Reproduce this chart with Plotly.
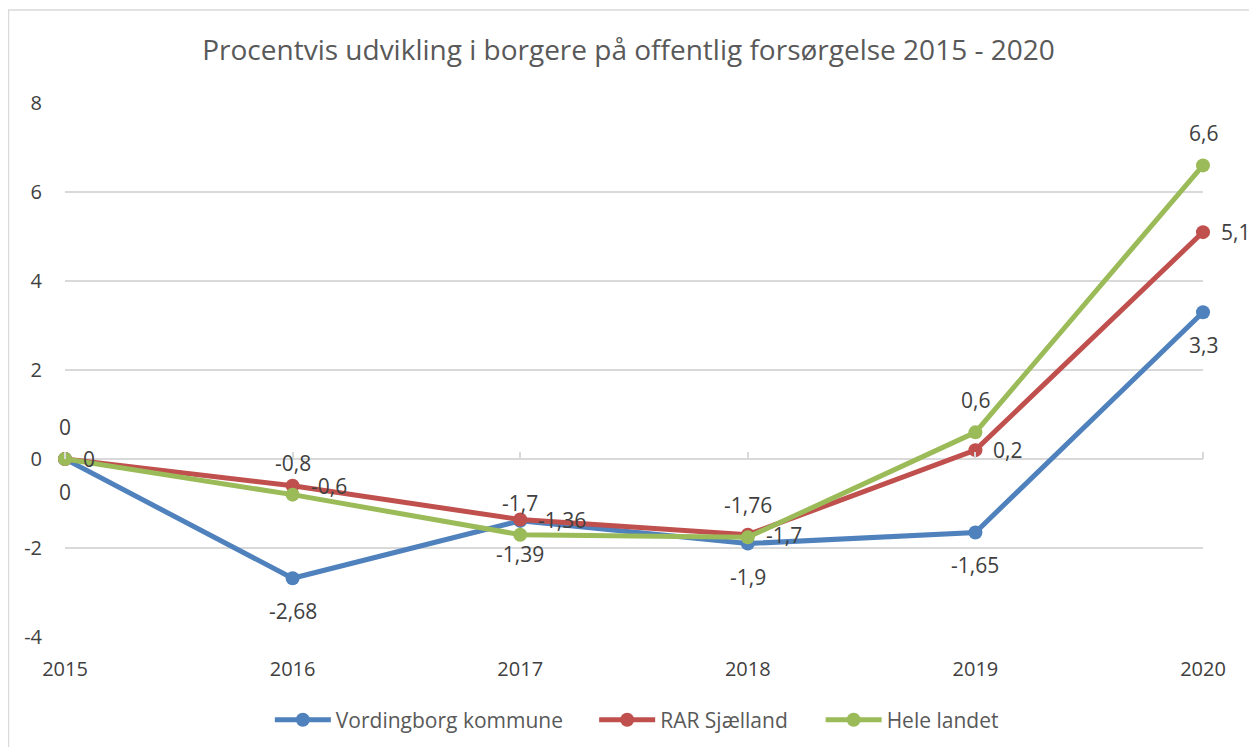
import plotly.graph_objects as go

years = [2015, 2016, 2017, 2018, 2019, 2020]
vordingborg = [0, -2.68, -1.39, -1.9, -1.65, 3.3]
rar_sjaelland = [0, -0.6, -1.36, -1.7, 0.2, 5.1]
hele_landet = [0, -0.8, -1.7, -1.76, 0.6, 6.6]
y_ticks = [-4, -2, 0, 2, 4, 6, 8]

FONT = "Open Sans"

def fmt(v):
    return ("%g" % v).replace(".", ",")

# name, values, colour, label placement, legend id, legend x (paper)
series = [
    ("Vordingborg kommune", vordingborg, "#4F81BD", "below", "legend", 0.180),
    ("RAR Sjælland", rar_sjaelland, "#C0504D", "right", "legend2", 0.465),
    ("Hele landet", hele_landet, "#9BBB59", "above", "legend3", 0.664),
]

fig = go.Figure()
annotations = []
legends = {}
for name, vals, color, pos, leg, lx in series:
    fig.add_trace(go.Scatter(
        x=years, y=vals, name=name, mode="lines+markers",
        line=dict(color=color, width=5),
        marker=dict(color=color, size=14),
        cliponaxis=False, legend=leg,
    ))
    legends[leg] = dict(orientation="h", x=lx, xanchor="left", y=0.0365, yref="container",
                        yanchor="middle", font=dict(family=FONT, size=21, color="#595959"),
                        itemwidth=56, bgcolor="rgba(0,0,0,0)")
    for x, v in zip(years, vals):
        a = dict(x=x, y=v, xref="x", yref="y", text=fmt(v), showarrow=False,
                 font=dict(family=FONT, size=21, color="#404040"))
        if pos == "below":
            a.update(yshift=-33, xanchor="center", yanchor="middle")
        elif pos == "above":
            a.update(yshift=32, xanchor="center", yanchor="middle")
        else:
            a.update(xshift=16, xanchor="left", yanchor="middle")
        annotations.append(a)

# helper axis to draw the small category tick marks on the zero line
fig.add_trace(go.Scatter(x=years, y=[None] * len(years), xaxis="x2", showlegend=False,
                         hoverinfo="skip"))

fig.update_layout(
    width=1241, height=739,
    paper_bgcolor="white", plot_bgcolor="white",
    margin=dict(l=57, r=46, t=95, b=110),
    title=dict(text="Procentvis udvikling i borgere på offentlig forsørgelse 2015 - 2020",
               x=0.5, xanchor="center", y=0.943, yanchor="middle",
               font=dict(family=FONT, size=28, color="#595959")),
    xaxis=dict(range=[2015, 2020], tickvals=years, ticktext=[str(y) for y in years],
               showgrid=False, zeroline=False, showline=False,
               tickfont=dict(family=FONT, size=20, color="#404040"),
               ticks="", ticklabelstandoff=18),
    xaxis2=dict(range=[2015, 2020], tickvals=years, overlaying="x", side="top",
                anchor="free", position=1/3, showticklabels=False, showgrid=False,
                zeroline=False, showline=False, ticks="outside", ticklen=7,
                tickcolor="#D9D9D9", tickwidth=1.5),
    yaxis=dict(range=[-4, 8.003], tickvals=y_ticks, ticktext=[str(t) for t in y_ticks],
               showgrid=True, gridcolor="#D9D9D9", gridwidth=1.5,
               zeroline=True, zerolinecolor="#D9D9D9", zerolinewidth=1.5,
               showline=False, ticks="",
               tickfont=dict(family=FONT, size=20, color="#404040"),
               ticklabelstandoff=22),
    annotations=annotations,
    showlegend=True,
    **legends,
)
fig.add_shape(type="rect", xref="paper", yref="paper", x0=-0.0497, x1=1.0466, y0=-0.25, y1=1.174,
              line=dict(color="#D9D9D9", width=1.5), fillcolor="rgba(0,0,0,0)", layer="below")

fig.write_html("out.html")
